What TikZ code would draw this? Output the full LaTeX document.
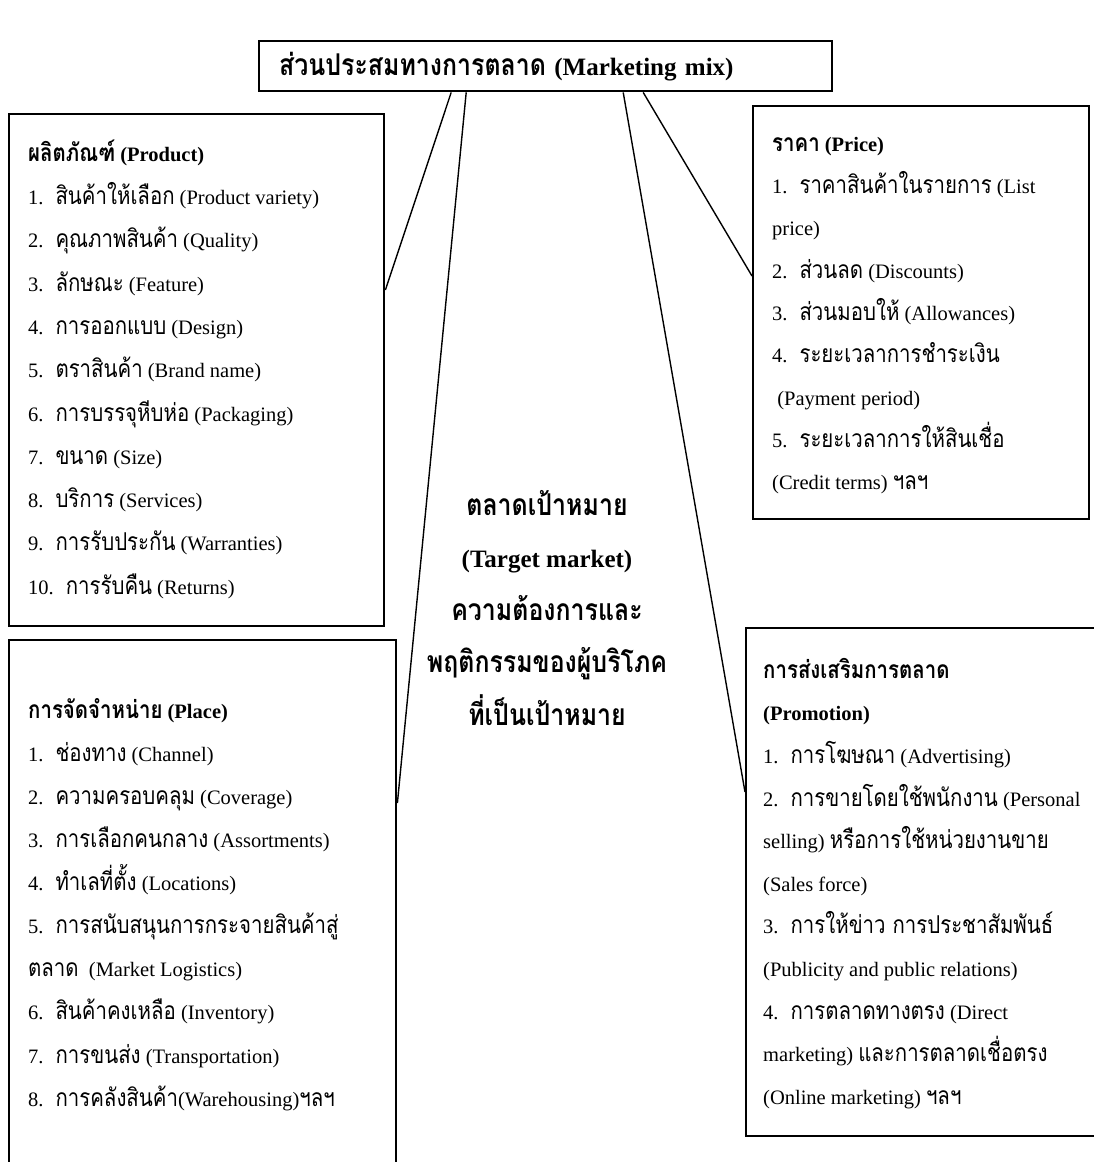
\documentclass[tikz,border=0pt]{standalone}
\usepackage{fontspec}
\setmainfont{Liberation Serif}
\newfontfamily\thai[Script=Thai,Scale=1.2,FakeStretch=0.83]{Loma}
\newcommand\T[1]{{\thai #1}}

\tikzset{
  box/.style={draw, line width=2.4pt, inner sep=0pt, anchor=north west},
  itemlist/.style={anchor=north west, inner sep=0pt, align=left},
  link/.style={line width=1.4pt},
}

\begin{document}
\begin{tikzpicture}[x=1pt,y=-1pt]
	\useasboundingbox (0,0) rectangle (1094,1162);
	
	%TOP BOX
	\node[box, minimum width=573pt, minimum height=50pt, text width=533pt, inner xsep=20pt, align=left,
	  font=\fontsize{25}{30}\selectfont\bfseries] (mix) at (258,40) {\T{ส่วนประสมทางการตลาด} (Marketing mix)};
	
	%FOUR BOXES
	\node[box, minimum width=375pt, minimum height=512pt] (product) at (8,113) {};
	\node[box, minimum width=336pt, minimum height=413pt] (price) at (752,105) {};
	\node[box, minimum width=387pt, minimum height=540pt] (place) at (8,639) {};
	\node[box, minimum width=352pt, minimum height=508pt] (promo) at (745,627) {};
	
	\node[itemlist, font=\fontsize{20.5}{43.3}\selectfont] (productlist) at (28,135) {
		\rule{0pt}{26pt}\textbf{\T{ผลิตภัณฑ์} (Product)}\\
		1.~ \T{สินค้าให้เลือก} (Product variety)\\
		2.~ \T{คุณภาพสินค้า} (Quality)\\
		3.~ \T{ลักษณะ} (Feature)\\
		4.~ \T{การออกแบบ} (Design)\\
		5.~ \T{ตราสินค้า} (Brand name)\\
		6.~ \T{การบรรจุหีบห่อ} (Packaging)\\
		7.~ \T{ขนาด} (Size)\\
		8.~ \T{บริการ} (Services)\\
		9.~ \T{การรับประกัน} (Warranties)\\
		10.~ \T{การรับคืน} (Returns)
	};
	
	\node[itemlist, font=\fontsize{20.5}{42.3}\selectfont] (pricelist) at (772,125) {
		\rule{0pt}{26pt}\textbf{\T{ราคา} (Price)}\\
		1.~ \T{ราคาสินค้าในรายการ} (List\\
		price)\\
		2.~ \T{ส่วนลด} (Discounts)\\
		3.~ \T{ส่วนมอบให้} (Allowances)\\
		4.~ \T{ระยะเวลาการชำระเงิน}\\
		\ (Payment period)\\
		5.~ \T{ระยะเวลาการให้สินเชื่อ}\\
		(Credit terms) \T{ฯลฯ}
	};
	
	\node[itemlist, font=\fontsize{20.5}{43.1}\selectfont] (placelist) at (28,692) {
		\rule{0pt}{26pt}\textbf{\T{การจัดจำหน่าย} (Place)}\\
		1.~ \T{ช่องทาง} (Channel)\\
		2.~ \T{ความครอบคลุม} (Coverage)\\
		3.~ \T{การเลือกคนกลาง} (Assortments)\\
		4.~ \T{ทำเลที่ตั้ง} (Locations)\\
		5.~ \T{การสนับสนุนการกระจายสินค้าสู่}\\
		\T{ตลาด}~ (Market Logistics)\\
		6.~ \T{สินค้าคงเหลือ} (Inventory)\\
		7.~ \T{การขนส่ง} (Transportation)\\
		8.~ \T{การคลังสินค้า}(Warehousing)\T{ฯลฯ}
	};
	
	\node[itemlist, font=\fontsize{20.5}{42.6}\selectfont] (promolist) at (763,652) {
		\rule{0pt}{26pt}\textbf{\T{การส่งเสริมการตลาด}}\\
		\textbf{(Promotion)}\\
		1.~ \T{การโฆษณา} (Advertising)\\
		2.~ \T{การขายโดยใช้พนักงาน} (Personal\\
		selling) \T{หรือการใช้หน่วยงานขาย}\\
		(Sales force)\\
		3.~ \T{การให้ข่าว การประชาสัมพันธ์}\\
		(Publicity and public relations)\\
		4.~ \T{การตลาดทางตรง} (Direct\\
		marketing) \T{และการตลาดเชื่อตรง}\\
		(Online marketing) \T{ฯลฯ}
	};
	
	%CENTRE
	\node[anchor=north, inner sep=0pt, align=center, font=\fontsize{25}{52.5}\selectfont\bfseries] (target) at (547,489) {
		\rule{0pt}{26pt}\T{ตลาดเป้าหมาย}\\
		(Target market)\\
		\T{ความต้องการและ}\\
		\T{พฤติกรรมของผู้บริโภค}\\
		\T{ที่เป็นเป้าหมาย}
	};
	
	%LINES
	\draw[link] ([xshift=-94.5pt]mix.south) -- ([yshift=-177pt]product.north east);
	\draw[link] ([xshift=-79.5pt]mix.south) -- ([yshift=-164pt]place.north east);
	\draw[link] ([xshift=77.5pt]mix.south) -- ([yshift=-165pt]promo.north west);
	\draw[link] ([xshift=97.5pt]mix.south) -- ([yshift=-171pt]price.north west);
\end{tikzpicture}
\end{document}
